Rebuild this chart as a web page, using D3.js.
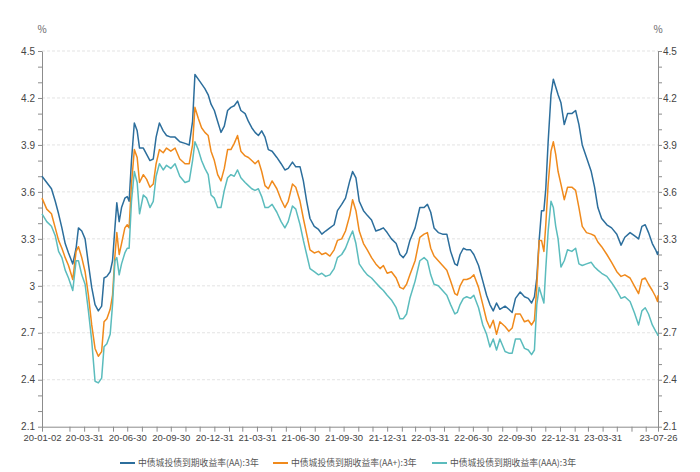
<!DOCTYPE html>
<html>
<head>
<meta charset="utf-8">
<script src="https://cdn.jsdelivr.net/npm/d3@7"></script>
<style>
  html, body { margin: 0; padding: 0; background: #fff; }
  svg { display: block; font-family: "Noto Sans CJK SC", "Noto Sans", sans-serif; }
</style>
</head>
<body>
<svg id="chart" width="700" height="472"></svg>
<script>
const seriesNames = ["中债城投债到期收益率(AA):3年", "中债城投债到期收益率(AA+):3年", "中债城投债到期收益率(AAA):3年"];
const seriesColors = ["#2c6e9c", "#f08a1c", "#5bbcbd"];

const dates = [
  "2020-01-02","2020-01-12","2020-01-22","2020-01-30","2020-02-06","2020-02-13","2020-02-20","2020-02-27","2020-03-07","2020-03-14","2020-03-19","2020-03-26","2020-04-02","2020-04-09","2020-04-16","2020-04-23","2020-04-30","2020-05-07","2020-05-12","2020-05-18","2020-05-25","2020-05-30","2020-06-04","2020-06-08","2020-06-13","2020-06-18","2020-06-25","2020-06-30","2020-07-04","2020-07-09","2020-07-15","2020-07-21","2020-07-26","2020-08-03","2020-08-10","2020-08-17","2020-08-24","2020-08-30","2020-09-06","2020-09-14","2020-09-21","2020-09-30","2020-10-09","2020-10-19","2020-10-30","2020-11-08","2020-11-15",
  "2020-11-20","2020-11-27","2020-12-04","2020-12-11","2020-12-18","2020-12-24","2020-12-31","2021-01-07","2021-01-14","2021-01-21","2021-01-28","2021-02-04","2021-02-11","2021-02-18","2021-02-25","2021-03-06","2021-03-13","2021-03-20","2021-03-27","2021-04-03","2021-04-10","2021-04-17","2021-04-24","2021-05-02","2021-05-12","2021-05-21","2021-05-29","2021-06-05","2021-06-14","2021-06-21","2021-06-30","2021-07-07","2021-07-14","2021-07-21","2021-07-30","2021-08-08","2021-08-15","2021-08-23","2021-09-01","2021-09-10","2021-09-17","2021-09-26","2021-10-04","2021-10-13",
  "2021-10-19","2021-10-26","2021-11-02","2021-11-11","2021-11-19","2021-11-28","2021-12-07","2021-12-16","2021-12-23","2021-12-31","2022-01-09","2022-01-19","2022-01-27","2022-02-03","2022-02-10","2022-02-17","2022-02-28","2022-03-10","2022-03-19","2022-03-26","2022-04-02","2022-04-09","2022-04-18","2022-04-27","2022-05-06","2022-05-14","2022-05-23","2022-05-28","2022-06-03","2022-06-10","2022-06-17","2022-06-25","2022-07-02","2022-07-12","2022-07-21","2022-07-29","2022-08-05","2022-08-12","2022-08-19","2022-08-26","2022-09-06",
  "2022-09-14","2022-09-21","2022-09-28","2022-10-08","2022-10-17","2022-10-25","2022-11-01","2022-11-07","2022-11-12","2022-11-17","2022-11-22","2022-11-27","2022-12-01","2022-12-06","2022-12-12","2022-12-17","2022-12-22","2022-12-27","2023-01-02","2023-01-09","2023-01-16","2023-01-25","2023-02-02","2023-02-09","2023-02-16","2023-02-25","2023-03-07","2023-03-14","2023-03-21","2023-03-29","2023-04-09","2023-04-19","2023-04-30","2023-05-09","2023-05-17","2023-05-28","2023-06-06","2023-06-15","2023-06-22","2023-06-29","2023-07-06","2023-07-14","2023-07-21","2023-07-25","2023-07-26"
];

const valuesAA = [
  3.70,3.66,3.62,3.54,3.46,3.37,3.27,3.21,3.14,3.24,3.37,3.35,3.30,3.14,2.99,2.88,2.84,2.87,3.05,3.06,3.09,3.16,3.37,3.53,3.41,3.50,3.56,3.57,3.54,3.80,4.04,3.99,3.88,3.88,3.84,3.80,3.81,3.95,4.04,3.99,3.96,3.95,3.95,3.92,3.91,3.90,4.05,
  4.35,4.32,4.29,4.26,4.22,4.16,4.12,4.05,3.98,4.02,4.12,4.14,4.15,4.18,4.12,4.10,4.05,4.01,3.98,3.96,3.99,3.95,3.87,3.86,3.82,3.78,3.74,3.75,3.79,3.76,3.76,3.67,3.54,3.43,3.38,3.36,3.33,3.35,3.37,3.39,3.48,3.52,3.56,3.67,
  3.73,3.69,3.54,3.48,3.45,3.42,3.35,3.36,3.37,3.34,3.30,3.27,3.20,3.18,3.21,3.29,3.37,3.50,3.50,3.52,3.47,3.37,3.34,3.33,3.33,3.22,3.14,3.13,3.20,3.24,3.23,3.23,3.20,3.13,3.03,2.94,2.88,2.84,2.89,2.85,2.87,
  2.85,2.83,2.92,2.96,2.93,2.92,2.89,2.93,3.05,3.29,3.48,3.48,3.62,3.92,4.22,4.32,4.27,4.22,4.17,4.03,4.10,4.10,4.12,4.03,3.90,3.82,3.73,3.63,3.50,3.43,3.39,3.37,3.33,3.26,3.31,3.34,3.32,3.30,3.38,3.39,3.34,3.27,3.23,3.20,3.22
];

const valuesAAplus = [
  3.56,3.49,3.46,3.37,3.29,3.24,3.18,3.13,3.04,3.22,3.25,3.18,3.09,2.94,2.75,2.60,2.55,2.58,2.77,2.79,2.85,2.94,3.19,3.34,3.20,3.27,3.37,3.39,3.37,3.65,3.87,3.82,3.66,3.71,3.68,3.63,3.65,3.78,3.87,3.85,3.88,3.86,3.88,3.81,3.78,3.78,3.90,
  4.14,4.07,4.01,3.98,3.96,3.86,3.80,3.71,3.67,3.75,3.87,3.87,3.91,3.96,3.86,3.83,3.82,3.80,3.78,3.80,3.73,3.64,3.62,3.67,3.62,3.55,3.50,3.54,3.65,3.63,3.54,3.43,3.33,3.23,3.21,3.22,3.20,3.21,3.19,3.23,3.29,3.30,3.35,3.45,
  3.55,3.48,3.35,3.27,3.23,3.18,3.14,3.11,3.13,3.08,3.09,3.05,2.99,2.98,3.01,3.07,3.16,3.31,3.33,3.34,3.24,3.19,3.16,3.13,3.10,3.03,2.95,2.94,3.00,3.04,3.04,3.05,3.07,2.99,2.88,2.78,2.73,2.78,2.69,2.77,2.74,
  2.71,2.73,2.82,2.82,2.77,2.78,2.75,2.78,2.99,3.29,3.29,3.22,3.39,3.65,3.86,3.92,3.84,3.73,3.65,3.55,3.63,3.63,3.61,3.50,3.38,3.34,3.33,3.32,3.28,3.25,3.20,3.15,3.09,3.06,3.07,3.05,3.00,2.95,3.04,3.05,3.01,2.97,2.93,2.90,2.94
];

const valuesAAA = [
  3.46,3.41,3.38,3.32,3.22,3.18,3.10,3.05,2.97,3.16,3.16,3.07,3.01,2.84,2.65,2.39,2.38,2.41,2.61,2.63,2.69,2.88,3.16,3.18,3.07,3.14,3.21,3.24,3.24,3.54,3.73,3.66,3.46,3.58,3.56,3.50,3.54,3.70,3.78,3.74,3.77,3.75,3.78,3.70,3.66,3.67,3.80,
  3.92,3.87,3.80,3.75,3.71,3.58,3.56,3.50,3.50,3.61,3.69,3.71,3.70,3.74,3.69,3.66,3.64,3.62,3.61,3.62,3.57,3.50,3.50,3.52,3.47,3.41,3.37,3.41,3.51,3.49,3.39,3.29,3.20,3.11,3.09,3.07,3.08,3.06,3.07,3.11,3.18,3.20,3.24,3.31,
  3.35,3.27,3.14,3.10,3.07,3.05,3.02,2.99,2.97,2.94,2.91,2.86,2.79,2.79,2.82,2.92,3.03,3.16,3.18,3.16,3.07,3.01,3.00,2.97,2.94,2.88,2.82,2.83,2.88,2.92,2.93,2.92,2.94,2.86,2.75,2.69,2.61,2.66,2.59,2.66,2.58,
  2.57,2.57,2.66,2.66,2.60,2.59,2.56,2.59,2.88,2.99,2.94,2.89,3.11,3.35,3.54,3.50,3.38,3.30,3.12,3.16,3.23,3.22,3.24,3.14,3.13,3.14,3.15,3.12,3.10,3.08,3.06,3.02,2.97,2.92,2.93,2.90,2.83,2.75,2.84,2.86,2.82,2.75,2.71,2.69,2.68
];

const yTickValues = [2.1,2.2,2.3,2.4,2.5,2.6,2.7,2.8,2.9,3.0,3.1,3.2,3.3,3.4,3.5,3.6,3.7,3.8,3.9,4.0,4.1,4.2,4.3,4.4,4.5];
const yTickLabels = ["2.1","2.4","2.7","3","3.3","3.6","3.9","4.2","4.5"];
const xTickLabels = ["20-01-02","20-03-31","20-06-30","20-09-30","20-12-31","21-03-31","21-06-30","21-09-30","21-12-31","22-03-31","22-06-30","22-09-30","22-12-31","23-03-31","23-07-26"];
const unitLabel = "%";

// ---------- drawing ----------
(function () {
const svg = d3.select("#chart");
const plotLeft = 42, plotRight = 658, plotTop = 51, plotBottom = 426.7;
const parse = d3.timeParse("%Y-%m-%d");
const parseShort = d3.timeParse("%y-%m-%d");
const fmtShort = d3.timeFormat("%y-%m-%d");

const x = d3.scaleTime()
  .domain([parse(dates[0]), parse(dates[dates.length - 1])])
  .range([plotLeft, plotRight]);
const y = d3.scaleLinear().domain([2.1, 4.5]).range([plotBottom, plotTop]);

const labelSet = new Set(yTickLabels);
const yFmt = v => { const s = String(Math.round(v * 10) / 10); return labelSet.has(s) ? s : ""; };

svg.append("g").selectAll("line")
  .data(yTickLabels.map(Number).filter(v => v > 2.1))
  .join("line")
  .attr("x1", plotLeft).attr("x2", plotRight)
  .attr("y1", d => y(d)).attr("y2", d => y(d))
  .attr("stroke", "#e3e3e3").attr("stroke-dasharray", "3,2").attr("stroke-width", 1);

function styleAxis(g, size) {
  g.select(".domain").attr("stroke", "#8c8c8c");
  g.selectAll(".tick line").attr("stroke", "#8c8c8c");
  g.selectAll(".tick text").attr("fill", "#444").style("font-size", size);
}

svg.append("g").attr("transform", `translate(${plotLeft},0)`)
  .call(d3.axisLeft(y).tickValues(yTickValues).tickFormat(yFmt).tickSize(4).tickSizeOuter(0).tickPadding(3))
  .call(styleAxis, "10px");

svg.append("g").attr("transform", `translate(${plotRight},0)`)
  .call(d3.axisRight(y).tickValues(yTickValues).tickFormat(yFmt).tickSize(4).tickSizeOuter(0).tickPadding(1))
  .call(styleAxis, "10px");

const labelKeys = new Set(xTickLabels.map(s => fmtShort(parseShort(s))));
const monthEnds = d3.timeMonth.range(d3.timeMonth.offset(x.domain()[0], 1), x.domain()[1])
  .map(d => d3.timeDay.offset(d, -1)).filter(d => d > x.domain()[0]);
const xTicks = [x.domain()[0], ...monthEnds, x.domain()[1]];
svg.append("g").attr("transform", `translate(0,${plotBottom})`)
  .call(d3.axisBottom(x).tickValues(xTicks)
    .tickFormat(d => labelKeys.has(fmtShort(d)) ? fmtShort(d) : "")
    .tickSize(5).tickSizeOuter(0).tickPadding(3))
  .call(styleAxis, "9.5px");

[plotLeft, plotRight].forEach(px => {
  svg.append("text").attr("x", px).attr("y", 33).attr("text-anchor", "middle")
    .attr("fill", "#666").style("font-size", "10px").text(unitLabel);
});

const allValues = [valuesAA, valuesAAplus, valuesAAA];
const line = d3.line().x(d => x(d.date)).y(d => y(d.value));
allValues.forEach((vals, i) => {
  const pts = dates.map((d, j) => ({ date: parse(d), value: vals[j] }));
  svg.append("path").datum(pts)
    .attr("fill", "none").attr("stroke", seriesColors[i])
    .attr("stroke-width", 1.5).attr("stroke-linejoin", "round")
    .attr("d", line);
});

const legendX = [120, 273, 432];
seriesNames.forEach((name, i) => {
  const g = svg.append("g").attr("transform", `translate(${legendX[i]},463)`);
  g.append("line").attr("x1", 0).attr("x2", 15).attr("y1", 0).attr("y2", 0)
    .attr("stroke", seriesColors[i]).attr("stroke-width", 2);
  g.append("text").attr("x", 18).attr("y", 0).attr("dy", "0.35em")
    .attr("fill", "#555").style("font-size", "8.8px").text(name);
});
})();
</script>
</body>
</html>
